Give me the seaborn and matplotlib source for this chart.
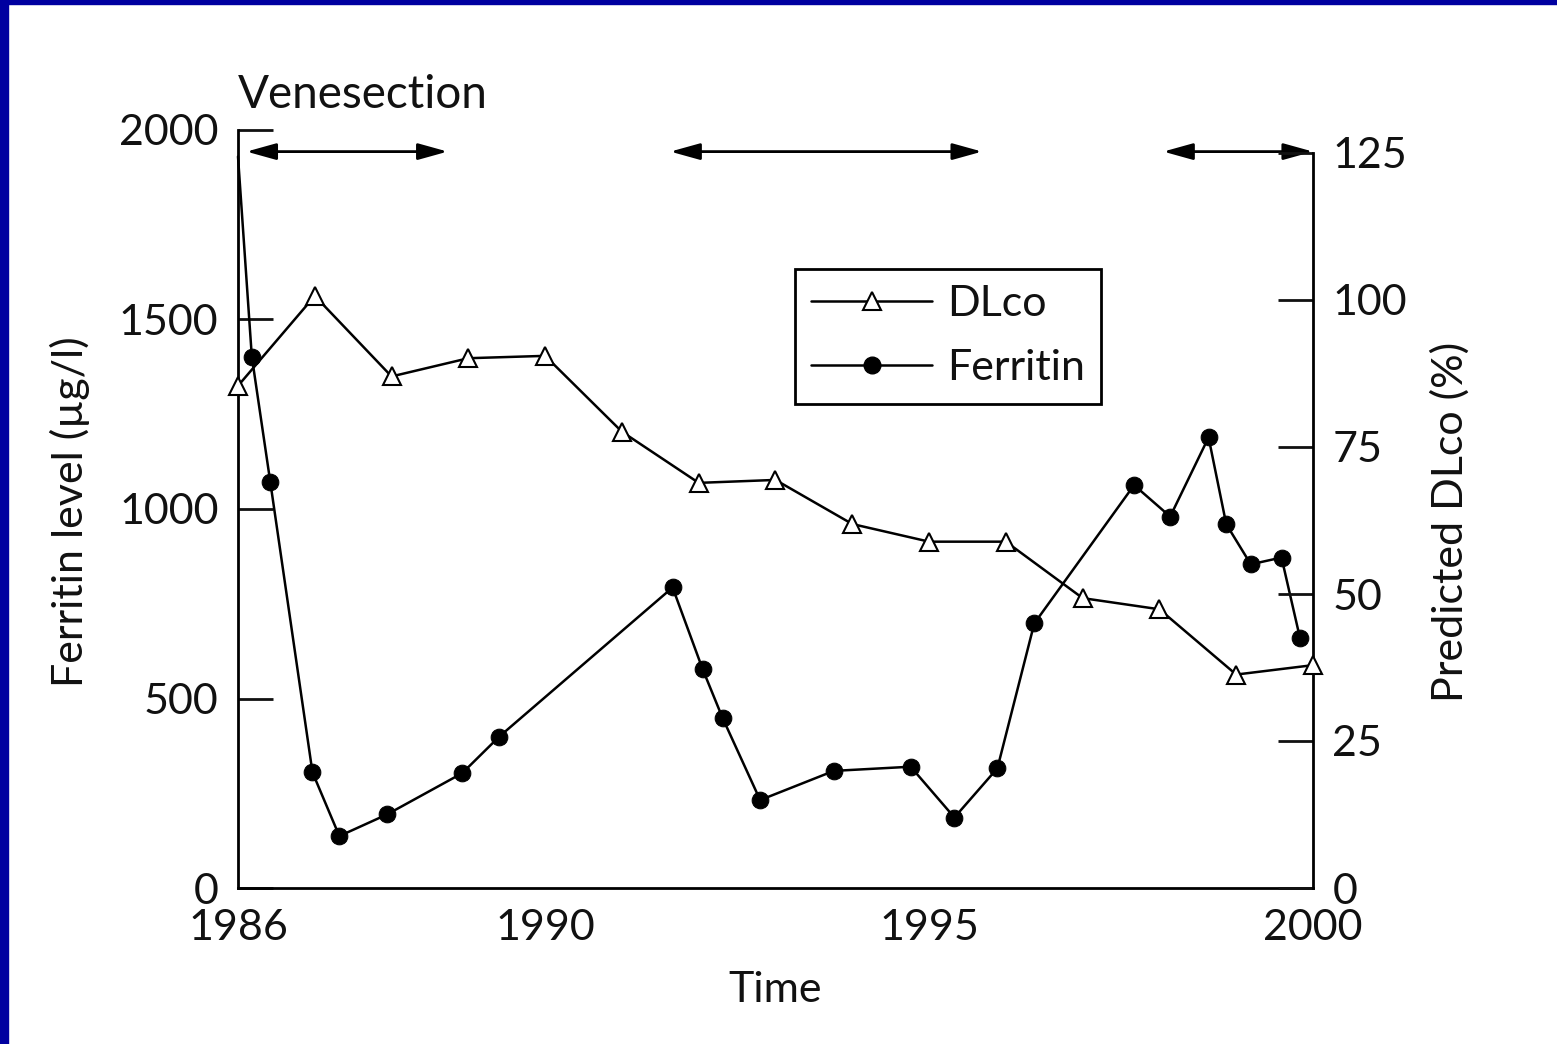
import matplotlib
matplotlib.use('Agg')
import matplotlib.pyplot as plt
import seaborn as sns
import pandas as pd
from matplotlib.patches import Rectangle
from matplotlib.lines import Line2D

# ---------------- data ----------------
ferritin_year = [1986.0, 1986.18, 1986.42, 1986.97, 1987.32, 1987.94, 1988.92, 1989.40,
                 1991.66, 1992.05, 1992.31, 1992.80, 1993.76, 1994.76, 1995.33, 1995.89,
                 1996.37, 1997.67, 1998.14, 1998.64, 1998.87, 1999.19, 1999.59, 1999.83]
ferritin_level = [1930, 1402, 1072, 305, 137, 194, 303, 399,
                  793, 578, 449, 232, 309, 320, 186, 316,
                  698, 1063, 980, 1189, 960, 854, 872, 660]
dlco_year = [1986, 1987, 1988, 1989, 1990, 1991, 1992, 1993, 1994, 1995, 1996, 1997,
             1998, 1999, 2000]
dlco_pct = [85.4, 100.7, 87.0, 90.1, 90.5, 77.6, 68.9, 69.4, 61.9, 58.9, 58.9, 49.3,
            47.4, 36.3, 37.9]
venesection_start = [1986.11, 1991.63, 1998.05]
venesection_end = [1988.73, 1995.69, 2000.0]
venesection_level = 1943
x_ticks = [1986, 1990, 1995, 2000]
left_ticks = [0, 500, 1000, 1500, 2000]
right_ticks = [0, 25, 50, 75, 100, 125]

df_fer = pd.DataFrame({'year': ferritin_year, 'level': ferritin_level})
df_dl = pd.DataFrame({'year': dlco_year, 'pct': dlco_pct})

sns.set_style('white')
plt.rcParams['font.family'] = ['Lato', 'DejaVu Sans']

FS = 31
fig = plt.figure(figsize=(15.57, 10.44), dpi=100)
fig.patch.set_facecolor('white')
ax = fig.add_axes([238/1557, 1-888/1044, (1313-238)/1557, (888-130)/1044])
ax2 = ax.twinx()

lw = 1.8
sns.lineplot(data=df_fer, x='year', y='level', ax=ax, color='black', lw=lw,
             marker='o', markersize=12, markerfacecolor='black', markeredgecolor='black',
             markevery=list(range(1, len(ferritin_year))), legend=False, zorder=3)
sns.lineplot(data=df_dl, x='year', y='pct', ax=ax2, color='black', lw=lw,
             marker='^', markersize=13, markerfacecolor='white', markeredgecolor='black',
             markeredgewidth=1.5, legend=False, zorder=3)
for ln in ax2.lines:
    ln.set_clip_on(False)
for ln in ax.lines:
    ln.set_clip_on(False)

ax.set_xlim(1986, 2000)
ax.set_ylim(0, 2000)
ax2.set_ylim(0, 125 * (888-130) / (888-153))

ax.set_xticks(x_ticks)
ax.set_xticklabels([str(t) for t in x_ticks])
ax.set_yticks(left_ticks)
ax.set_yticklabels([str(t) for t in left_ticks])
ax2.set_yticks(right_ticks)
ax2.set_yticklabels([str(t) for t in right_ticks])

for a in (ax, ax2):
    for s in a.spines.values():
        s.set_linewidth(2)
        s.set_color('black')
    a.set_facecolor('none')
ax.spines['top'].set_visible(False)
ax.spines['right'].set_visible(False)
ax2.spines['top'].set_visible(False)
ax2.spines['left'].set_visible(False)
ax2.spines['bottom'].set_visible(False)
ax.spines['left'].set_bounds(0, 2000)
ax2.spines['right'].set_bounds(0, 125)

ax.tick_params(axis='x', direction='in', length=25, width=2, labelsize=FS, pad=15, colors='#111111')
ax.tick_params(axis='y', direction='in', length=25, width=2, labelsize=FS, pad=14, colors='#111111')
ax2.tick_params(axis='y', direction='in', length=25, width=2, labelsize=FS, pad=14, colors='#111111')

ax.set_xlabel('Time', fontsize=FS, color='#111111')
ax.xaxis.set_label_coords(0.4995, -0.1346)
ax.xaxis.label.set_va('center')
ax.set_ylabel('Ferritin level (µg/l)', fontsize=FS, color='#111111')
ax.yaxis.set_label_coords(-0.156, 0.497)
ax.yaxis.label.set_va('center')
ax2.set_ylabel('Predicted DLco (%)', fontsize=FS, color='#111111', rotation=90)
ax2.yaxis.set_label_coords(1.127, 0.483)
ax2.yaxis.label.set_va('center')

# venesection arrows
for x0, x1 in zip(venesection_start, venesection_end):
    ax.annotate('', xy=(x1, venesection_level), xytext=(x0, venesection_level),
                xycoords='data', textcoords='data', annotation_clip=False,
                arrowprops=dict(arrowstyle='<|-|>,head_length=0.9,head_width=0.25',
                                color='black', lw=2, mutation_scale=20,
                                shrinkA=0, shrinkB=0))
ax.text(1986.0, 2092, 'Venesection', fontsize=33, ha='left', va='center',
        color='#111111', clip_on=False)

# legend
h_dl = Line2D([], [], color='black', lw=lw, marker='^', markersize=13,
              markerfacecolor='white', markeredgecolor='black', markeredgewidth=1.5)
h_fe = Line2D([], [], color='black', lw=lw, marker='o', markersize=12,
              markerfacecolor='black', markeredgecolor='black')
leg = ax2.legend([h_dl, h_fe], ['DLco', 'Ferritin'], loc='upper left',
                 bbox_to_anchor=((795-238)/1075, (888-269)/758), fontsize=31,
                 frameon=True, fancybox=False, edgecolor='black', framealpha=1,
                 handlelength=2.8, handletextpad=0.35, borderpad=0.38,
                 labelspacing=0.6, borderaxespad=0)
leg.get_frame().set_linewidth(2)
for t in leg.get_texts():
    t.set_color('#111111')

# blue frame bars
fig.patches.append(Rectangle((0, 0), 8/1557, 1, transform=fig.transFigure,
                             color='#0000A0', zorder=10))
fig.patches.append(Rectangle((0, 1-4/1044), 1, 4/1044, transform=fig.transFigure,
                             color='#0000A0', zorder=10))

fig.savefig('out.png', dpi=100, facecolor='white')
